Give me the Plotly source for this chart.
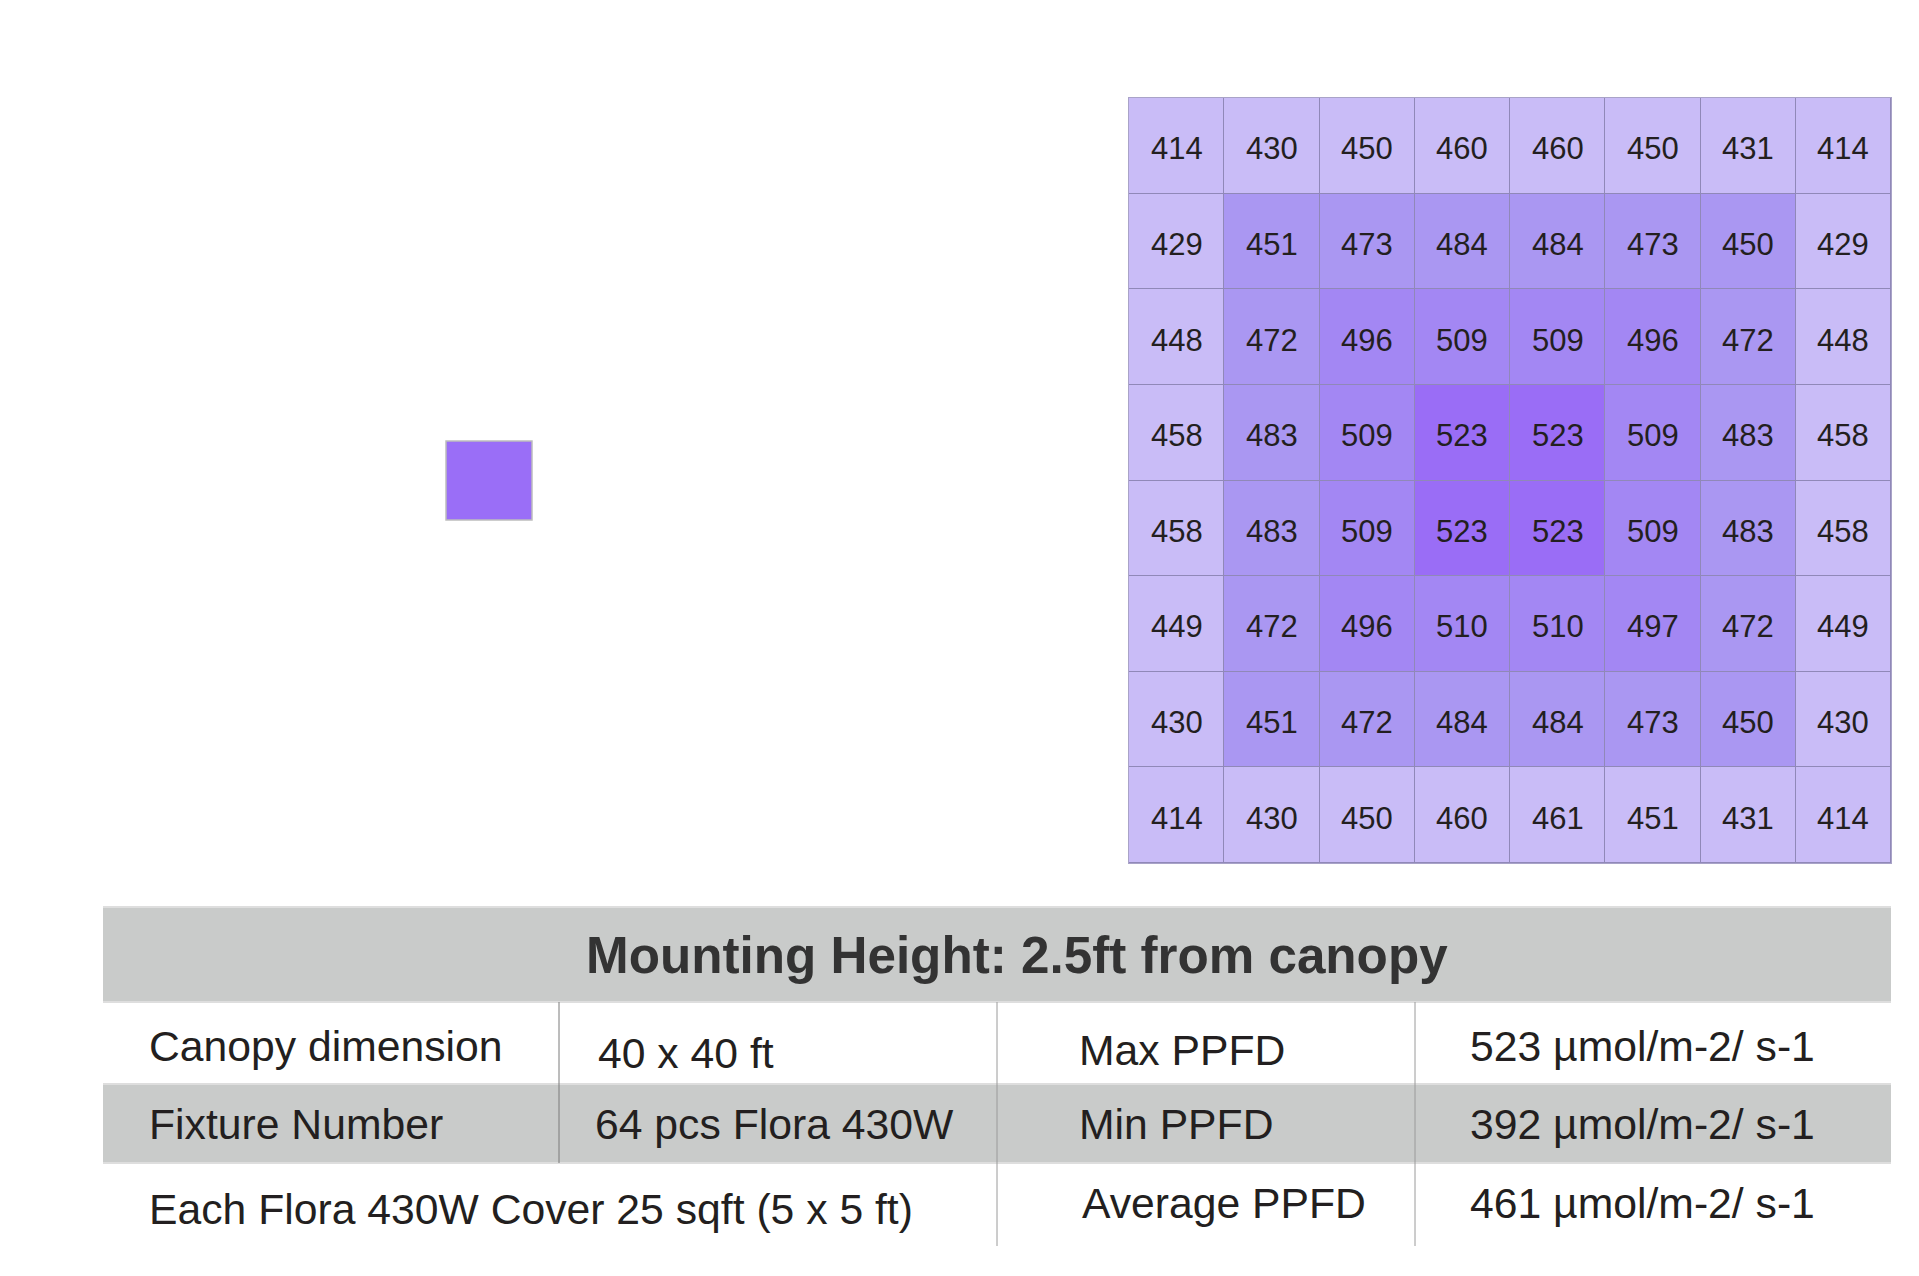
import plotly.graph_objects as go

W, H = 1919, 1276

# ---------------- data ----------------
ppfd_rows = [
    [414, 430, 450, 460, 460, 450, 431, 414],
    [429, 451, 473, 484, 484, 473, 450, 429],
    [448, 472, 496, 509, 509, 496, 472, 448],
    [458, 483, 509, 523, 523, 509, 483, 458],
    [458, 483, 509, 523, 523, 509, 483, 458],
    [449, 472, 496, 510, 510, 497, 472, 449],
    [430, 451, 472, 484, 484, 473, 450, 430],
    [414, 430, 450, 460, 461, 451, 431, 414],
]
col_labels = list(range(8))
row_labels = list(range(8))

header_text = "Mounting Height: 2.5ft from canopy"
row1_labels = ["Canopy dimension", "40 x 40 ft", "Max PPFD", "523 µmol/m-2/ s-1"]
row2_labels = ["Fixture Number", "64 pcs Flora 430W", "Min PPFD", "392 µmol/m-2/ s-1"]
row3_labels = ["Each Flora 430W Cover 25 sqft (5 x 5 ft)", "Average PPFD", "461 µmol/m-2/ s-1"]

# ---------------- styles ----------------
tier_colors = ["#C9BCF7", "#AA97F2", "#A387F3", "#9A6DF6"]
n = len(ppfd_rows)
tiers = [[min(i, j, n - 1 - i, n - 1 - j) for j in range(n)] for i in range(n)]
colorscale = []
for k, c in enumerate(tier_colors):
    colorscale.append([k / len(tier_colors), c])
    colorscale.append([(k + 1) / len(tier_colors), c])

FONT = "Arial, Liberation Sans, sans-serif"
TXT = "#231F20"

def px(x):
    return x / W

def py(y):
    return 1 - y / H

fig = go.Figure()
fig.add_trace(go.Heatmap(
    z=tiers, x=col_labels, y=row_labels,
    text=ppfd_rows, hovertemplate="%{text}<extra></extra>",
    colorscale=colorscale, zmin=-0.5, zmax=3.5, showscale=False,
    xgap=1, ygap=1,
))

ann = []
# cell values, placed on the heatmap's own axes
for i, row in enumerate(ppfd_rows):
    for j, v in enumerate(row):
        ann.append(dict(text=str(v), x=col_labels[j], y=row_labels[i],
                        xref="x", yref="y", showarrow=False, yshift=-3,
                        font=dict(family=FONT, size=31, color=TXT)))

RIGHT = 1891
shapes = []
# left purple square
shapes.append(dict(type="rect", xref="paper", yref="paper",
                   x0=px(446), x1=px(532), y0=py(441), y1=py(520),
                   fillcolor="#9A6EF7", line=dict(color="#BDBDBD", width=1.5)))
GRAY = "#C9CBCA"
# header band
shapes.append(dict(type="rect", xref="paper", yref="paper", layer="below",
                   x0=px(103), x1=px(RIGHT), y0=py(907), y1=py(1002),
                   fillcolor=GRAY, line=dict(width=0)))
# second row band
shapes.append(dict(type="rect", xref="paper", yref="paper", layer="below",
                   x0=px(103), x1=px(RIGHT), y0=py(1084), y1=py(1163),
                   fillcolor=GRAY, line=dict(width=0)))
# faint band borders
for yy in (907, 1002, 1084, 1163):
    shapes.append(dict(type="line", xref="paper", yref="paper",
                       x0=px(103), x1=px(RIGHT), y0=py(yy), y1=py(yy),
                       line=dict(color="#DEDEDE", width=2)))
# vertical dividers
shapes.append(dict(type="line", xref="paper", yref="paper",
                   x0=px(559), x1=px(559), y0=py(1002), y1=py(1163),
                   line=dict(color="#7A7A7A", width=1)))
for xx in (997, 1415):
    shapes.append(dict(type="line", xref="paper", yref="paper",
                       x0=px(xx), x1=px(xx), y0=py(1002), y1=py(1246),
                       line=dict(color="#9A9A9A", width=1)))

ann.append(dict(text="<b>" + header_text + "</b>", x=px(1017), y=py(955),
                xref="paper", yref="paper", xanchor="center", yanchor="middle",
                showarrow=False, font=dict(family=FONT, size=51.2, color="#333333")))

def add_row(labels, xs, ys):
    for t, x, y in zip(labels, xs, ys):
        ann.append(dict(text=t, x=px(x), y=py(y), xref="paper", yref="paper",
                        xanchor="left", yanchor="middle", showarrow=False,
                        font=dict(family=FONT, size=42.7, color=TXT)))

add_row(row1_labels, [147, 596, 1077, 1468], [1046, 1053, 1050, 1046])
add_row(row2_labels, [147, 593, 1077, 1468], [1124, 1124, 1124, 1124])
add_row(row3_labels, [147, 1080, 1468], [1209, 1203, 1203])

fig.update_layout(
    width=W, height=H, margin=dict(l=0, r=0, t=0, b=0),
    paper_bgcolor="white", plot_bgcolor="#9088B8",
    shapes=shapes, annotations=ann, showlegend=False,
    xaxis=dict(domain=[px(1129), px(RIGHT)], range=[-0.5, 7.5], showgrid=False,
               zeroline=False, showticklabels=False, ticks="",
               showline=True, mirror=True, linecolor="#A9A3C8", linewidth=1),
    yaxis=dict(domain=[py(863), py(98)], range=[7.5, -0.5], showgrid=False,
               zeroline=False, showticklabels=False, ticks="",
               showline=True, mirror=True, linecolor="#A9A3C8", linewidth=1),
)

fig.write_html("out.html", config={"displayModeBar": False},
               post_script="document.body.style.margin='0';document.body.style.overflow='hidden';")
